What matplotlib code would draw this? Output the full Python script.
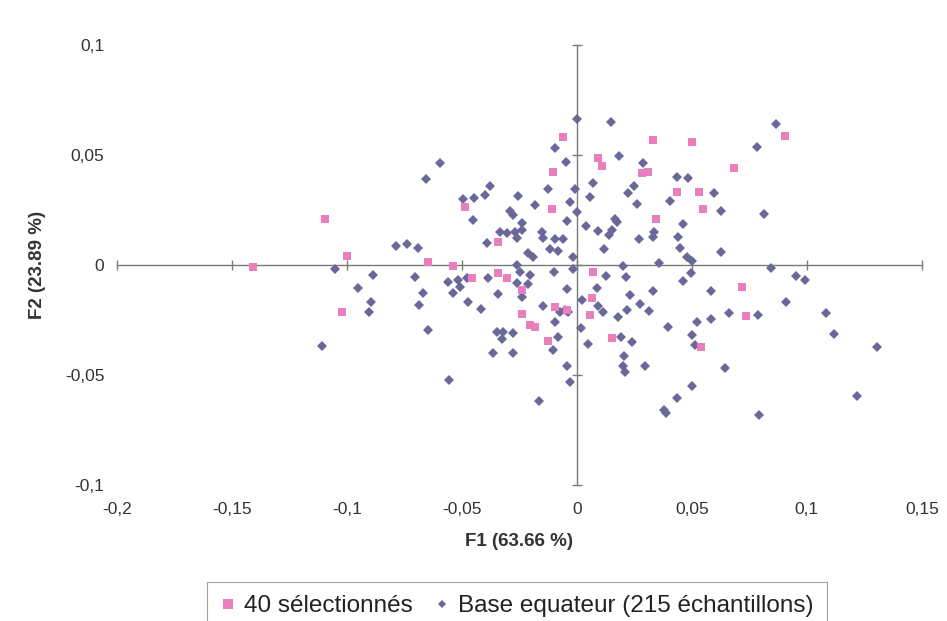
import matplotlib
matplotlib.use("Agg")
import matplotlib.pyplot as plt
from matplotlib.lines import Line2D

plt.rcParams['font.family'] = ['Liberation Sans', 'DejaVu Sans']

# Base equateur (F1, F2)
base_f1 = [-0.105, -0.0887, -0.0952, -0.0896, -0.0904, -0.1109, -0.0704, -0.0670, -0.0687, -0.0648,
           -0.0557, -0.0787, -0.0739, -0.0691, -0.0596, -0.0657, -0.0561, -0.0517, -0.0478, -0.0539,
           -0.0509, -0.0474, -0.0417, -0.0387, -0.0343, -0.0261, -0.0248, -0.0204, -0.0261, -0.0213,
           -0.0239, -0.0148, -0.0074, -0.0039, -0.0096, -0.0348, -0.0322, -0.0278, -0.0326, -0.0365,
           -0.0278, -0.0083, -0.0104, -0.0043, -0.0030, -0.0165, -0.0017, -0.0017, -0.0043, -0.0100,
           -0.0052, -0.0496, -0.0448, -0.0400, -0.0378, -0.0257, -0.0183, -0.0126, -0.0096, -0.0048,
           -0.0009, -0.0030, 0.0, -0.0043, -0.0452, -0.0291, -0.0278, -0.0239, -0.0335, -0.0304,
           -0.0270, -0.0239, -0.0261, -0.0391, -0.0152, -0.0148, -0.0096, -0.0061, -0.0117, -0.0083,
           -0.0213, -0.0191, 0.0, 0.0148, 0.0865, 0.0783, 0.0183, 0.0287, 0.0435, 0.0483,
           0.0070, 0.0248, 0.0222, 0.0596, 0.0057, 0.0261, 0.0404, 0.0626, 0.0813, 0.0165,
           0.0174, 0.0039, 0.0091, 0.0152, 0.0139, 0.0461, 0.0335, 0.0330, 0.0270, 0.0439,
           0.0117, 0.0448, 0.0626, 0.0478, 0.0500, 0.0200, 0.0357, 0.0843, 0.0126, 0.0496,
           0.0461, 0.0952, 0.0991, 0.0213, 0.0087, 0.0022, 0.0230, 0.0330, 0.0583, 0.0909,
           0.0091, 0.0113, 0.0217, 0.0274, 0.0313, 0.0178, 0.0661, 0.0787, 0.0583, 0.0522,
           0.1083, 0.0396, 0.0017, 0.0191, 0.0239, 0.0500, 0.0513, 0.1117, 0.1304, 0.0048,
           0.0204, 0.0200, 0.0209, 0.0296, 0.0643, 0.0500, 0.0435, 0.0378, 0.0387, 0.0791,
           0.1217]
base_f2 = [-0.0020, -0.0045, -0.0105, -0.0168, -0.0214, -0.0368, -0.0055, -0.0127, -0.0182, -0.0295,
           -0.0523, 0.0086, 0.0095, 0.0077, 0.0464, 0.0391, -0.0077, -0.0068, -0.0059, -0.0127,
           -0.0100, -0.0168, -0.0200, -0.0059, -0.0132, 0.0, -0.0032, -0.0045, -0.0082, -0.0086,
           -0.0145, -0.0186, -0.0214, -0.0214, -0.0259, -0.0305, -0.0305, -0.0309, -0.0336, -0.0400,
           -0.0400, -0.0327, -0.0386, -0.0459, -0.0532, -0.0618, 0.0036, -0.0018, -0.0109, -0.0032,
           -0.0205, 0.0300, 0.0305, 0.0318, 0.0359, 0.0314, 0.0273, 0.0345, 0.0532, 0.0468,
           0.0345, 0.0286, 0.0241, 0.0200, 0.0205, 0.0245, 0.0227, 0.0191, 0.0150, 0.0145,
           0.0150, 0.0159, 0.0123, 0.0100, 0.0150, 0.0123, 0.0118, 0.0118, 0.0073, 0.0064,
           0.0055, 0.0036, 0.0664, 0.0650, 0.0641, 0.0536, 0.0495, 0.0464, 0.0400, 0.0395,
           0.0373, 0.0359, 0.0327, 0.0327, 0.0309, 0.0277, 0.0291, 0.0245, 0.0232, 0.0209,
           0.0195, 0.0177, 0.0155, 0.0159, 0.0136, 0.0186, 0.0150, 0.0127, 0.0118, 0.0127,
           0.0073, 0.0077, 0.0059, 0.0036, 0.0018, -0.0005, 0.0009, -0.0014, -0.0050, -0.0036,
           -0.0073, -0.0050, -0.0068, -0.0055, -0.0105, -0.0159, -0.0136, -0.0118, -0.0118, -0.0168,
           -0.0186, -0.0214, -0.0205, -0.0177, -0.0209, -0.0236, -0.0218, -0.0227, -0.0245, -0.0259,
           -0.0218, -0.0282, -0.0286, -0.0327, -0.0350, -0.0318, -0.0364, -0.0314, -0.0373, -0.0359,
           -0.0414, -0.0459, -0.0486, -0.0459, -0.0468, -0.0550, -0.0605, -0.0659, -0.0673, -0.0682,
           -0.0595]

# 40 selectionnes (F1, F2)
sel_f1 = [-0.1096, -0.1000, -0.1409, -0.1022, -0.0648, -0.0539, -0.0457, -0.0343, -0.0304, -0.0239,
          -0.0096, -0.0239, -0.0204, -0.0183, -0.0126, -0.0487, -0.0104, -0.0061, -0.0109, -0.0343,
          0.0330, 0.0500, 0.0904, 0.0091, 0.0109, 0.0283, 0.0309, 0.0683, 0.0435, 0.0530,
          0.0548, 0.0343, 0.0070, 0.0065, 0.0057, 0.0717, 0.0735, 0.0152, 0.0539, -0.0043]
sel_f2 = [0.0209, 0.0041, -0.0009, -0.0214, 0.0014, -0.0005, -0.0059, -0.0036, -0.0059, -0.0114,
          -0.0191, -0.0223, -0.0273, -0.0282, -0.0345, 0.0264, 0.0423, 0.0582, 0.0255, 0.0105,
          0.0568, 0.0559, 0.0586, 0.0486, 0.0450, 0.0418, 0.0423, 0.0441, 0.0332, 0.0332,
          0.0255, 0.0209, -0.0032, -0.0150, -0.0227, -0.0100, -0.0232, -0.0332, -0.0373, -0.0205]

x_ticks = [-0.2, -0.15, -0.1, -0.05, 0, 0.05, 0.1, 0.15]
x_labels = ['-0,2', '-0,15', '-0,1', '-0,05', '0', '0,05', '0,1', '0,15']
y_ticks = [-0.1, -0.05, 0, 0.05, 0.1]
y_labels = ['-0,1', '-0,05', '0', '0,05', '0,1']

blue = '#6a6898'
pink = '#e97fbc'

fig = plt.figure(figsize=(9.47, 6.21), dpi=100)
pos = [0.1235, 0.219, 0.850, 0.7085]

# axes for the tick labels at the edges
axl = fig.add_axes(pos)
axl.set_xlim(-0.2, 0.15)
axl.set_ylim(-0.1, 0.1)
axl.set_xticks(x_ticks, x_labels)
axl.set_yticks(y_ticks, y_labels)
axl.tick_params(length=0, labelsize=12.5, colors='#333333')
axl.tick_params(axis='y', pad=9)
axl.tick_params(axis='x', pad=12)
for s in axl.spines.values():
    s.set_visible(False)

# axes crossing at zero with the points
ax = fig.add_axes(pos, sharex=axl, sharey=axl)
ax.patch.set_visible(False)
for side in ['top', 'right']:
    ax.spines[side].set_visible(False)
for side in ['left', 'bottom']:
    ax.spines[side].set_position('zero')
    ax.spines[side].set_color('#7a7a7a')
    ax.spines[side].set_linewidth(1)
ax.tick_params(direction='inout', length=7, width=1, color='#7a7a7a',
               labelleft=False, labelbottom=False)

ax.plot(base_f1, base_f2, 'D', color=blue, ms=5.5, mew=0, zorder=3)
ax.plot(sel_f1, sel_f2, 's', color=pink, ms=5.8, mew=0, zorder=4)

fig.text(519 / 947, 1 - 542 / 621, 'F1 (63.66 %)', ha='center', va='center',
         fontsize=13.5, fontweight='bold', color='#333333')
fig.text(38 / 947, 1 - 265 / 621, 'F2 (23.89 %)', ha='center', va='center',
         rotation=90, fontsize=13.5, fontweight='bold', color='#333333')

handles = [Line2D([], [], ls='', marker='s', color=pink, ms=6.5, mew=0),
           Line2D([], [], ls='', marker='D', color=blue, ms=3.8, mew=0)]
leg = fig.legend(handles, ['40 sélectionnés', 'Base equateur (215 échantillons)'],
                 loc='upper center', bbox_to_anchor=(517 / 947, 1 - 582 / 621),
                 ncol=2, fontsize=17.5, frameon=True, fancybox=False,
                 edgecolor='#888888', handlelength=0.6, handletextpad=0.35,
                 columnspacing=0.9, borderpad=0.55, borderaxespad=0)
leg.get_frame().set_linewidth(0.8)
for t in leg.get_texts():
    t.set_color('#222222')

fig.savefig('out.png', dpi=100)
